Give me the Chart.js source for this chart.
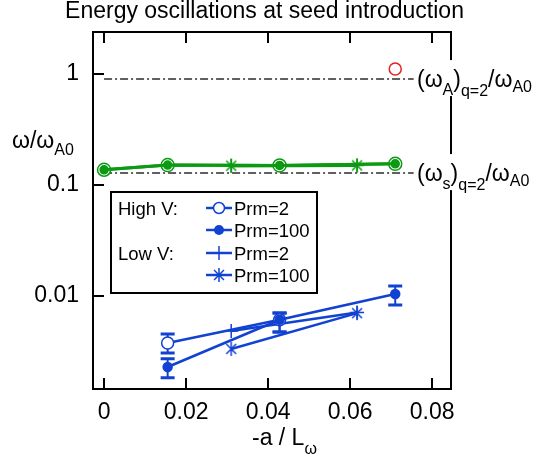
<!DOCTYPE html>
<html>
<head>
<meta charset="utf-8">
<script src="https://cdn.jsdelivr.net/npm/chart.js@4.4.0/dist/chart.umd.min.js"></script>
<style>
  html, body { margin: 0; padding: 0; background: #fff; }
  #wrap { width: 539px; height: 462px; }
</style>
</head>
<body>
<div id="wrap"><canvas id="chart" width="539" height="462"></canvas></div>
<script>
const FONT = "'Liberation Sans', Arial, sans-serif";

// axis ticks
const xTicks = [0, 0.02, 0.04, 0.06, 0.08];
const xTickLabels = ['0', '0.02', '0.04', '0.06', '0.08'];
const yTicks = [0.01, 0.1, 1];
const yTickLabels = ['0.01', '0.1', '1'];

// green: sound-wave frequency, high V runs
const xHigh = [0, 0.0155, 0.0428, 0.071];
const greenHighPrm2 = [0.137, 0.151, 0.150, 0.155];
const greenHighPrm100 = [0.137, 0.151, 0.150, 0.155];
// green: low V runs
const xLow = [0.031, 0.0617];
const greenLowPrm2 = [0.149, 0.150];
const greenLowPrm100 = [0.149, 0.150];

// blue: energy oscillations
const xBlueHighPrm2 = [0.0155, 0.0428];
const blueHighPrm2 = [0.00377, 0.0061];
const blueHighPrm2Lo = [0.00306, 0.00474];
const blueHighPrm2Hi = [0.00455, 0.00703];
const xBlueHighPrm100 = [0.0155, 0.0428, 0.071];
const blueHighPrm100 = [0.00229, 0.0061, 0.0104];
const blueHighPrm100Lo = [0.00183, 0.00474, 0.0083];
const blueHighPrm100Hi = [0.00271, 0.00703, 0.0123];
const blueLowPrm2 = [0.00484, 0.0071];
const blueLowPrm100 = [0.00333, 0.0070];

// red: Alfven frequency point
const xAlfven = [0.071];
const alfven = [1.11];

// reference levels
const refX = [0, 0.0755];
const refAlfven = 0.90;
const refSound = 0.128;

const GREEN = '#0b9a12';
const BLUE = '#1242d2';
const RED = '#e8201c';
const GREY = '#606060';

const pts = (xs, ys) => xs.map((x, i) => ({ x, y: ys[i] }));

function makeAsterisk(color, r, lw) {
    const c = document.createElement('canvas');
    const s = 2 * r + 2;
    c.width = s; c.height = s;
    const g = c.getContext('2d');
    g.strokeStyle = color;
    g.lineWidth = lw;
    const m = s / 2;
    const d = r * Math.SQRT1_2;
    g.beginPath();
    g.moveTo(m, m - r); g.lineTo(m, m + r);
    g.moveTo(m - d, m - d); g.lineTo(m + d, m + d);
    g.moveTo(m - d, m + d); g.lineTo(m + d, m - d);
    g.stroke();
    return c;
}
const greenStar = makeAsterisk(GREEN, 7, 1.5);
const blueStar = makeAsterisk(BLUE, 7, 1.5);

function richText(ctx, parts, x, y) {
    let cx = x;
    parts.forEach(p => {
        ctx.font = `${p.size}px ${FONT}`;
        ctx.fillText(p.text, cx, y + (p.dy || 0));
        cx += ctx.measureText(p.text).width;
    });
    return cx - x;
}

// frame with inward ticks
const framePlugin = {
    id: 'frame',
    beforeDatasetsDraw(chart) {
        const { ctx, chartArea: a, scales: { x, y } } = chart;
        ctx.save();
        ctx.strokeStyle = '#000';
        ctx.lineWidth = 2;
        ctx.strokeRect(a.left, a.top, a.right - a.left, a.bottom - a.top);
        ctx.beginPath();
        x.ticks.forEach(t => {
            const px = Math.round(x.getPixelForValue(t.value));
            ctx.moveTo(px, a.top); ctx.lineTo(px, a.top + 11);
            ctx.moveTo(px, a.bottom); ctx.lineTo(px, a.bottom - 11);
        });
        y.ticks.forEach(t => {
            const py = Math.round(y.getPixelForValue(t.value));
            ctx.moveTo(a.left, py); ctx.lineTo(a.left + 11, py);
        });
        ctx.stroke();
        ctx.restore();
    }
};

// vertical error bars with caps
const errorBarPlugin = {
    id: 'errorBars',
    beforeDatasetsDraw(chart) {
        const { ctx, scales: { x, y } } = chart;
        ctx.save();
        chart.data.datasets.forEach(ds => {
            if (!ds.errLo) return;
            ctx.strokeStyle = ds.borderColor;
            ds.data.forEach((p, i) => {
                const px = x.getPixelForValue(p.x);
                const lo = y.getPixelForValue(ds.errLo[i]);
                const hi = y.getPixelForValue(ds.errHi[i]);
                ctx.lineWidth = 2;
                ctx.beginPath();
                ctx.moveTo(px, lo); ctx.lineTo(px, hi);
                ctx.stroke();
                ctx.lineWidth = 3;
                ctx.beginPath();
                ctx.moveTo(px - 7, lo); ctx.lineTo(px + 7, lo);
                ctx.moveTo(px - 7, hi); ctx.lineTo(px + 7, hi);
                ctx.stroke();
            });
        });
        ctx.restore();
    }
};

// axis titles, level labels and the grouped legend
const annotationPlugin = {
    id: 'annotations',
    afterDatasetsDraw(chart) {
        const { ctx, scales: { y } } = chart;
        ctx.save();
        ctx.fillStyle = '#000';
        ctx.textBaseline = 'alphabetic';
        ctx.textAlign = 'left';

        // level labels on the right
        const levels = [
            { v: refAlfven, sub: 'A' },
            { v: refSound, sub: 's' }
        ];
        levels.forEach(l => {
            const py = y.getPixelForValue(l.v);
            ctx.fillStyle = '#fff';
            ctx.fillRect(415, py - 19, 124, 36);
            ctx.fillStyle = '#000';
            richText(ctx, [
                { text: '(ω', size: 23 },
                { text: l.sub, size: 16, dy: 8 },
                { text: ')', size: 23 },
                { text: 'q=2', size: 16, dy: 9 },
                { text: '/ω', size: 23 },
                { text: 'A0', size: 16, dy: 5 }
            ], 417, py + 8);
        });

        // y title
        richText(ctx, [
            { text: 'ω/ω', size: 23 },
            { text: 'A0', size: 16, dy: 7 }
        ], 12, 148);

        // x title
        richText(ctx, [
            { text: '-a / L', size: 23 },
            { text: 'ω', size: 16, dy: 9 }
        ], 252, 445);

        // legend
        const box = { l: 111, t: 192, r: 317, b: 293 };
        ctx.fillStyle = '#fff';
        ctx.fillRect(box.l, box.t, box.r - box.l, box.b - box.t);
        ctx.strokeStyle = '#000';
        ctx.lineWidth = 2;
        ctx.strokeRect(box.l, box.t, box.r - box.l, box.b - box.t);

        const rows = [
            { group: 'High V:', label: 'Prm=2', mark: 'open', y: 208 },
            { group: '', label: 'Prm=100', mark: 'filled', y: 230 },
            { group: 'Low V:', label: 'Prm=2', mark: 'cross', y: 253 },
            { group: '', label: 'Prm=100', mark: 'star', y: 275 }
        ];
        rows.forEach(r => {
            ctx.fillStyle = '#000';
            ctx.font = `18.5px ${FONT}`;
            if (r.group) ctx.fillText(r.group, 118, r.y + 6.5);
            ctx.fillText(r.label, 234, r.y + 6.5);
            ctx.strokeStyle = BLUE;
            ctx.lineWidth = 2.5;
            ctx.beginPath();
            ctx.moveTo(206, r.y); ctx.lineTo(232, r.y);
            ctx.stroke();
            const cx = 219;
            if (r.mark === 'open') {
                ctx.fillStyle = '#fff';
                ctx.lineWidth = 1.5;
                ctx.beginPath(); ctx.arc(cx, r.y, 5.5, 0, Math.PI * 2); ctx.fill(); ctx.stroke();
            } else if (r.mark === 'filled') {
                ctx.fillStyle = BLUE;
                ctx.beginPath(); ctx.arc(cx, r.y, 5, 0, Math.PI * 2); ctx.fill();
            } else if (r.mark === 'cross') {
                ctx.lineWidth = 1.5;
                ctx.beginPath(); ctx.moveTo(cx, r.y - 7); ctx.lineTo(cx, r.y + 7); ctx.stroke();
            } else {
                ctx.drawImage(blueStar, cx - blueStar.width / 2, r.y - blueStar.height / 2);
            }
        });
        ctx.restore();
    }
};

const lineSet = (label, data, color, width, extra) => Object.assign({
    label, data,
    type: 'line',
    showLine: true,
    borderColor: color,
    backgroundColor: color,
    borderWidth: width,
    pointBorderColor: color,
    pointBorderWidth: 1.5,
    fill: false
}, extra);

const datasets = [
    // green (drawn last = first in list)
    lineSet('green high Prm=100', pts(xHigh, greenHighPrm100), GREEN, 3,
        { pointStyle: 'circle', pointRadius: 4, pointBackgroundColor: GREEN }),
    lineSet('green high Prm=2', pts(xHigh, greenHighPrm2), GREEN, 3,
        { pointStyle: 'circle', pointRadius: 6.5, pointBackgroundColor: '#fff' }),
    lineSet('green low Prm=100', pts(xLow, greenLowPrm100), GREEN, 3,
        { pointStyle: greenStar, pointRadius: 7 }),
    lineSet('green low Prm=2', pts(xLow, greenLowPrm2), GREEN, 3,
        { pointStyle: 'cross', pointRadius: 7 }),
    // red
    lineSet('Alfven', pts(xAlfven, alfven), RED, 1.5,
        { showLine: false, pointStyle: 'circle', pointRadius: 6, pointBackgroundColor: '#fff' }),
    // blue
    lineSet('High V Prm=100', pts(xBlueHighPrm100, blueHighPrm100), BLUE, 2.5,
        { pointStyle: 'circle', pointRadius: 4.5, pointBackgroundColor: BLUE,
          errLo: blueHighPrm100Lo, errHi: blueHighPrm100Hi }),
    lineSet('High V Prm=2', pts(xBlueHighPrm2, blueHighPrm2), BLUE, 2.5,
        { pointStyle: 'circle', pointRadius: 6, pointBackgroundColor: '#fff',
          errLo: blueHighPrm2Lo, errHi: blueHighPrm2Hi }),
    lineSet('Low V Prm=2', pts(xLow, blueLowPrm2), BLUE, 2.5,
        { pointStyle: 'cross', pointRadius: 7 }),
    lineSet('Low V Prm=100', pts(xLow, blueLowPrm100), BLUE, 2.5,
        { pointStyle: blueStar, pointRadius: 7 }),
    // reference levels
    lineSet('omega_A', refX.map(x => ({ x, y: refAlfven })), GREY, 2,
        { pointRadius: 0, borderDash: [8, 3, 2, 3] }),
    lineSet('omega_s', refX.map(x => ({ x, y: refSound })), GREY, 2,
        { pointRadius: 0, borderDash: [8, 3, 2, 3] })
];

new Chart(document.getElementById('chart').getContext('2d'), {
    type: 'scatter',
    data: { datasets },
    options: {
        responsive: false,
        animation: false,
        devicePixelRatio: 1,
        layout: { padding: { left: 0, right: 10, top: 0, bottom: 0 } },
        plugins: {
            legend: { display: false },
            tooltip: { enabled: false },
            title: {
                display: true,
                text: 'Energy oscillations at seed introduction',
                color: '#000',
                font: { family: FONT, size: 23, weight: 'normal', lineHeight: 1 },
                padding: { top: 0, bottom: 9 }
            }
        },
        scales: {
            x: {
                type: 'linear',
                min: -0.0027,
                max: 0.0846,
                grid: { display: false, drawTicks: false },
                border: { display: false },
                afterBuildTicks: s => { s.ticks = xTicks.map(v => ({ value: v })); },
                afterFit: s => { s.height = 73; },
                ticks: {
                    color: '#000',
                    font: { family: FONT, size: 23 },
                    padding: 10,
                    maxRotation: 0,
                    callback: v => xTickLabels[xTicks.indexOf(v)]
                }
            },
            y: {
                type: 'logarithmic',
                min: 0.00145,
                max: 2.39,
                grid: { display: false, drawTicks: false },
                border: { display: false },
                afterBuildTicks: s => { s.ticks = yTicks.map(v => ({ value: v })); },
                afterFit: s => { s.width = 93; },
                ticks: {
                    color: '#000',
                    font: { family: FONT, size: 23 },
                    padding: 14,
                    callback: v => yTickLabels[yTicks.indexOf(v)]
                }
            },
            // empty right-hand strip that holds the level labels
            yRight: {
                type: 'linear',
                position: 'right',
                display: true,
                grid: { display: false, drawTicks: false },
                border: { display: false },
                ticks: { display: false },
                afterFit: s => { s.width = 78; }
            }
        }
    },
    plugins: [framePlugin, errorBarPlugin, annotationPlugin]
});
</script>
</body>
</html>
